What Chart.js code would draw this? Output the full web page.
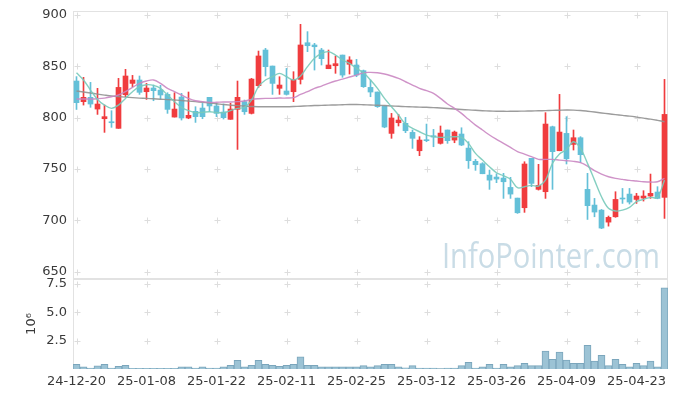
<!DOCTYPE html>
<html>
<head>
<meta charset="utf-8">
<script src="https://cdn.jsdelivr.net/npm/chart.js@4.4.1/dist/chart.umd.min.js"></script>
<style>
  html, body { margin: 0; padding: 0; background: #fff; }
  #wrap { position: relative; width: 677px; height: 397px; overflow: hidden; }
  #wrap canvas { position: absolute; left: 0; }
  #price { top: 0; }
  #volume { top: 270px; }
</style>
</head>
<body>
<div id="wrap">
  <canvas id="price" width="677" height="285"></canvas>
  <canvas id="volume" width="677" height="127"></canvas>
</div>
<script>
/* Daily candles, Dec 20 2024 – Apr 29 2025 (Korean market: red = up, blue = down). */

const DATES = [
  '24-12-20','24-12-23','24-12-24','24-12-26','24-12-27','24-12-30',
  '25-01-02','25-01-03','25-01-06','25-01-07','25-01-08','25-01-09','25-01-10','25-01-13','25-01-14',
  '25-01-15','25-01-16','25-01-17','25-01-20','25-01-21','25-01-22','25-01-23','25-01-24','25-01-31',
  '25-02-03','25-02-04','25-02-05','25-02-06','25-02-07','25-02-10','25-02-11','25-02-12','25-02-13',
  '25-02-14','25-02-17','25-02-18','25-02-19','25-02-20','25-02-21','25-02-24','25-02-25','25-02-26',
  '25-02-27','25-02-28',
  '25-03-04','25-03-05','25-03-06','25-03-07','25-03-10','25-03-11','25-03-12','25-03-13','25-03-14',
  '25-03-17','25-03-18','25-03-19','25-03-20','25-03-21','25-03-24','25-03-25','25-03-26','25-03-27',
  '25-03-28','25-03-31',
  '25-04-01','25-04-02','25-04-03','25-04-04','25-04-07','25-04-08','25-04-09','25-04-10','25-04-11',
  '25-04-14','25-04-15','25-04-16','25-04-17','25-04-18','25-04-21','25-04-22','25-04-23','25-04-24',
  '25-04-25','25-04-28','25-04-29'
];

const OPEN = [
  835.7, 815.6, 819.8, 808.4, 799.0, 795.8, 789.6, 822.4, 833.4, 836.7,
  825.3, 828.9, 826.9, 822.7, 800.6, 820.1, 799.7, 806.2, 809.4, 819.8,
  811.4, 805.5, 798.4, 808.1, 815.6, 804.2, 831.2, 865.9, 850.3, 828.6,
  826.0, 825.3, 837.3, 873.0, 870.8, 865.9, 847.7, 850.6, 861.0, 852.0,
  851.3, 845.8, 829.5, 825.0, 811.4, 784.7, 795.1, 794.5, 785.7, 767.8,
  778.2, 782.4, 775.0, 788.0, 778.2, 784.1, 770.4, 757.5, 755.2, 744.1,
  742.2, 741.2, 732.1, 721.7, 712.3, 760.4, 730.2, 727.9, 791.2, 767.8,
  784.7, 774.0, 780.5, 730.2, 714.9, 710.0, 698.3, 703.5, 721.4, 725.6,
  720.4, 721.7, 723.7, 727.6, 722.4
];
const HIGH = [
  840.0, 839.3, 834.4, 828.6, 812.3, 806.8, 838.3, 847.1, 841.2, 840.6,
  833.4, 831.8, 831.5, 824.3, 824.3, 823.7, 825.0, 810.7, 813.9, 819.8,
  813.9, 813.3, 814.0, 835.7, 817.2, 838.3, 864.9, 867.5, 850.3, 839.9,
  848.0, 844.8, 890.9, 883.8, 872.4, 867.5, 865.9, 860.0, 861.0, 859.4,
  856.8, 846.4, 836.7, 825.0, 811.4, 804.2, 803.2, 800.3, 788.0, 781.5,
  793.8, 788.6, 791.9, 788.0, 787.0, 790.2, 776.6, 759.4, 756.2, 749.0,
  745.4, 745.8, 741.9, 721.7, 757.1, 760.4, 754.6, 804.9, 791.8, 822.7,
  801.0, 788.0, 781.5, 745.8, 721.4, 710.6, 704.2, 727.9, 731.1, 731.1,
  726.3, 728.9, 745.1, 732.8, 837.3
];
const LOW = [
  808.0, 812.3, 810.1, 803.2, 785.7, 790.6, 789.6, 820.4, 830.2, 822.7,
  817.8, 816.5, 818.2, 804.2, 800.6, 797.7, 799.0, 795.4, 799.0, 806.0,
  801.0, 798.7, 798.4, 769.1, 803.2, 803.6, 829.5, 840.6, 822.7, 822.7,
  822.0, 815.6, 832.8, 864.3, 846.4, 851.3, 847.7, 843.2, 839.3, 842.5,
  839.9, 829.5, 820.4, 810.0, 790.2, 779.9, 791.9, 785.4, 770.1, 763.0,
  776.6, 771.7, 774.3, 775.0, 775.6, 772.8, 750.6, 748.7, 745.4, 730.2,
  736.7, 721.4, 721.4, 706.8, 707.8, 732.8, 729.5, 721.4, 730.2, 767.8,
  754.9, 768.5, 756.2, 700.9, 703.5, 691.9, 694.4, 703.0, 716.5, 715.9,
  716.5, 718.8, 721.4, 721.0, 701.9
];
const CLOSE = [
  814.6, 819.8, 813.3, 813.3, 801.0, 795.1, 829.5, 840.6, 836.7, 824.7,
  828.9, 826.3, 822.1, 808.1, 808.4, 799.7, 802.3, 801.0, 801.0, 811.4,
  804.2, 800.0, 808.4, 819.8, 805.8, 837.6, 860.1, 849.7, 833.4, 831.8,
  822.7, 837.3, 870.8, 870.1, 869.1, 857.5, 851.3, 852.6, 841.5, 856.2,
  841.5, 830.2, 825.0, 810.7, 790.9, 799.7, 797.7, 787.3, 779.9, 778.2,
  777.6, 781.1, 785.0, 777.6, 786.0, 773.4, 758.1, 754.2, 745.4, 739.2,
  740.2, 737.6, 725.6, 707.4, 754.9, 736.0, 734.1, 793.8, 766.9, 786.0,
  760.0, 780.5, 764.0, 714.3, 708.1, 692.5, 702.9, 720.4, 720.8, 717.8,
  723.7, 723.7, 726.3, 721.4, 803.2
];

// Moving averages as drawn (short, middle, long).
const MA_SHORT = [
  843.8, 836.7, 826.9, 817.8, 812.3, 809.1, 812.3, 818.8, 825.3, 830.2,
  832.1, 831.5, 828.6, 822.1, 815.6, 810.1, 806.8, 804.9, 805.2, 805.8,
  805.0, 804.9, 806.8, 809.1, 810.1, 817.2, 830.2, 836.7, 839.9, 843.2,
  839.9, 836.7, 840.6, 849.7, 857.8, 862.6, 864.3, 861.0, 856.2, 852.9,
  848.0, 843.8, 836.7, 828.6, 818.8, 810.7, 802.6, 793.8, 789.6, 786.3,
  783.1, 781.5, 780.8, 781.1, 781.5, 780.8, 775.0, 765.2, 758.7, 752.2,
  746.4, 743.5, 740.0, 731.8, 732.8, 734.1, 733.4, 739.2, 755.5, 764.6,
  769.1, 776.6, 770.1, 755.5, 739.2, 723.0, 711.7, 709.1, 710.0, 712.6,
  718.2, 720.4, 722.4, 722.4, 739.2
];
const MA_MID = [
  818.2, 818.2, 818.2, 818.5, 819.1, 820.4, 822.1, 825.3, 829.5, 833.4,
  835.7, 836.7, 833.4, 828.6, 825.3, 822.1, 818.8, 816.5, 815.6, 814.9,
  815.0, 815.3, 815.3, 815.6, 816.2, 817.8, 818.5, 818.8, 818.8, 819.1,
  819.1, 819.5, 822.7, 825.3, 828.6, 830.8, 833.4, 835.7, 837.6, 839.6,
  841.5, 843.8, 844.1, 843.8, 842.5, 840.6, 838.3, 835.0, 831.8, 828.6,
  826.3, 823.7, 818.8, 813.3, 809.1, 804.2, 798.4, 792.8, 788.0, 783.1,
  778.9, 775.0, 771.0, 766.9, 764.6, 762.0, 759.4, 759.4, 759.4, 758.7,
  758.1, 757.5, 756.2, 752.9, 748.4, 745.1, 742.5, 740.9, 739.9, 738.9,
  738.3, 737.6, 737.3, 737.6, 740.9
];
const MA_LONG = [
  826.0, 825.0, 824.0, 823.0, 822.0, 821.1, 820.5, 820.0, 819.5, 819.1,
  818.8, 818.4, 818.0, 817.6, 817.2, 816.8, 816.2, 815.6, 815.0, 814.3,
  813.6, 812.8, 812.2, 811.7, 811.4, 810.9, 810.7, 810.7, 810.7, 810.7,
  810.7, 810.9, 811.2, 811.5, 811.8, 812.0, 812.2, 812.4, 812.6, 812.8,
  812.8, 812.6, 812.4, 812.1, 811.8, 811.4, 811.1, 810.8, 810.5, 810.3,
  810.1, 809.8, 809.4, 809.0, 808.5, 808.0, 807.6, 807.2, 806.8, 806.5,
  806.3, 806.2, 806.2, 806.3, 806.4, 806.5, 806.7, 806.9, 807.1, 807.3,
  807.5, 807.4, 807.0, 806.3, 805.5, 804.6, 803.8, 803.0, 802.2, 801.5,
  800.6, 799.6, 798.6, 797.4, 796.1
];

// Volume, in millions of shares (axis unit 10^6).
const VOLUME = [
  0.41, 0.20, 0.08, 0.29, 0.41, 0.08, 0.23, 0.32, 0.06, 0.06,
  0.06, 0.06, 0.06, 0.06, 0.06, 0.20, 0.20, 0.08, 0.20, 0.08,
  0.08, 0.20, 0.32, 0.76, 0.20, 0.32, 0.76, 0.41, 0.32, 0.23,
  0.32, 0.41, 1.08, 0.32, 0.32, 0.20, 0.20, 0.20, 0.20, 0.20,
  0.20, 0.30, 0.20, 0.30, 0.41, 0.41, 0.20, 0.10, 0.30, 0.08,
  0.08, 0.08, 0.03, 0.08, 0.08, 0.30, 0.58, 0.08, 0.20, 0.41,
  0.08, 0.41, 0.20, 0.30, 0.50, 0.30, 0.30, 1.58, 0.85, 1.49,
  0.79, 0.50, 0.50, 2.08, 0.70, 1.20, 0.30, 0.85, 0.41, 0.20,
  0.50, 0.30, 0.70, 0.20, 7.17
];

const PRICE_TICKS = [650, 700, 750, 800, 850, 900];
const VOLUME_TICKS = [2.5, 5.0, 7.5];
const LABEL_EVERY = 10;

const UP = '#f03c3e';
const DOWN = '#64c0d8';
const FONT = { family: '"DejaVu Sans", Verdana, sans-serif', size: 13 };
const TEXT = '#3a3a3a';

const candleColors = OPEN.map((o, i) => (CLOSE[i] >= o ? UP : DOWN));

/* Frame round each panel plus small "+" marks where the grid would cross. */
const framePlugin = {
  id: 'frame',
  beforeDatasetsDraw(chart, args, opts) {
    const { ctx, chartArea: a, scales } = chart;
    const xs = scales.x, ys = scales.y;
    ctx.save();
    ctx.strokeStyle = '#e2e2e2';
    ctx.lineWidth = 1;
    ctx.strokeRect(a.left + 0.5, a.top + 0.5, a.width - 1, a.height - 1);

    ctx.strokeStyle = '#dddddd';
    ctx.beginPath();
    for (let i = 0; i < DATES.length; i += LABEL_EVERY) {
      const px = Math.round(xs.getPixelForValue(i)) + 0.5;
      ys.ticks.forEach((t) => {
        const py = Math.round(ys.getPixelForValue(t.value)) + 0.5;
        ctx.moveTo(px - 3, py); ctx.lineTo(px + 3, py);
        ctx.moveTo(px, py - 3); ctx.lineTo(px, py + 3);
      });
    }
    ctx.stroke();

    if (opts.watermark) {
      ctx.fillStyle = '#c9dce6';
      ctx.font = '34px "Open Sans", sans-serif';
      ctx.textAlign = 'right';
      ctx.textBaseline = 'alphabetic';
      ctx.fillText(opts.watermark, a.right - 8, a.bottom - 11, 218);
    }
    ctx.restore();
  },
};

// Fixed axis width so both panels line up; the label half-heights must not
// push the plot area in, the reference lets them hang over the frame.
const fixedWidth = (s) => {
  s.width = 73;
  s.paddingTop = 0;
  s.paddingBottom = 0;
};

new Chart(document.getElementById('price'), {
  type: 'bar',
  data: {
    labels: DATES,
    datasets: [
      { type: 'line', data: MA_SHORT, borderColor: 'rgba(120,202,186,0.9)', borderWidth: 1.4,
        pointRadius: 0, tension: 0.35, order: 0 },
      { type: 'line', data: MA_MID, borderColor: 'rgba(202,135,194,0.9)', borderWidth: 1.4,
        pointRadius: 0, tension: 0.35, order: 1 },
      { type: 'line', data: MA_LONG, borderColor: 'rgba(145,145,145,0.9)', borderWidth: 1.4,
        pointRadius: 0, tension: 0.35, order: 2 },
      // wick: low → high, one pixel wide
      { data: LOW.map((l, i) => [l, HIGH[i]]), backgroundColor: candleColors,
        barThickness: 1, grouped: false, order: 4 },
      // body: open → close
      { data: OPEN.map((o, i) => [o, CLOSE[i]]), backgroundColor: candleColors,
        barThickness: 5, minBarLength: 1, grouped: false, order: 3 },
    ],
  },
  options: {
    responsive: false,
    animation: false,
    layout: { padding: { top: 11, right: 9, bottom: 6, left: 0 } },
    plugins: {
      legend: { display: false },
      tooltip: { enabled: false },
      frame: { watermark: 'InfoPointer.com' },
    },
    scales: {
      x: { display: false, offset: true, grid: { display: false } },
      y: {
        min: 642.9, max: 903.9,
        afterBuildTicks: (s) => { s.ticks = PRICE_TICKS.map((v) => ({ value: v })); },
        afterFit: fixedWidth,
        grid: { display: false, drawTicks: false },
        border: { display: false },
        ticks: { font: FONT, color: TEXT, padding: 6 },
      },
    },
  },
  plugins: [framePlugin],
});

new Chart(document.getElementById('volume'), {
  type: 'bar',
  data: {
    labels: DATES,
    datasets: [{
      data: VOLUME, backgroundColor: '#9cc3d5', borderColor: '#7ba6bc', borderWidth: 1,
      barPercentage: 1, categoryPercentage: 1,
    }],
  },
  options: {
    responsive: false,
    animation: false,
    layout: { padding: { top: 9, right: 9, bottom: 0, left: 0 } },
    plugins: { legend: { display: false }, tooltip: { enabled: false }, frame: {} },
    scales: {
      x: {
        offset: true,
        grid: { display: false, drawTicks: false },
        border: { display: false },
        afterFit: (s) => { s.height = 28; },
        ticks: {
          autoSkip: false, maxRotation: 0, padding: 5, font: FONT, color: TEXT,
          callback: (v, i) => (i % LABEL_EVERY === 0 ? DATES[i] : null),
        },
      },
      y: {
        min: 0, max: 7.94,
        afterBuildTicks: (s) => { s.ticks = VOLUME_TICKS.map((v) => ({ value: v })); },
        afterFit: fixedWidth,
        grid: { display: false, drawTicks: false },
        border: { display: false },
        title: { display: true, text: '10⁶', font: FONT, color: TEXT, padding: { top: 24, bottom: 0 } },
        ticks: { font: FONT, color: TEXT, padding: 6, callback: (v) => v.toFixed(1) },
      },
    },
  },
  plugins: [framePlugin],
});
</script>
</body>
</html>
